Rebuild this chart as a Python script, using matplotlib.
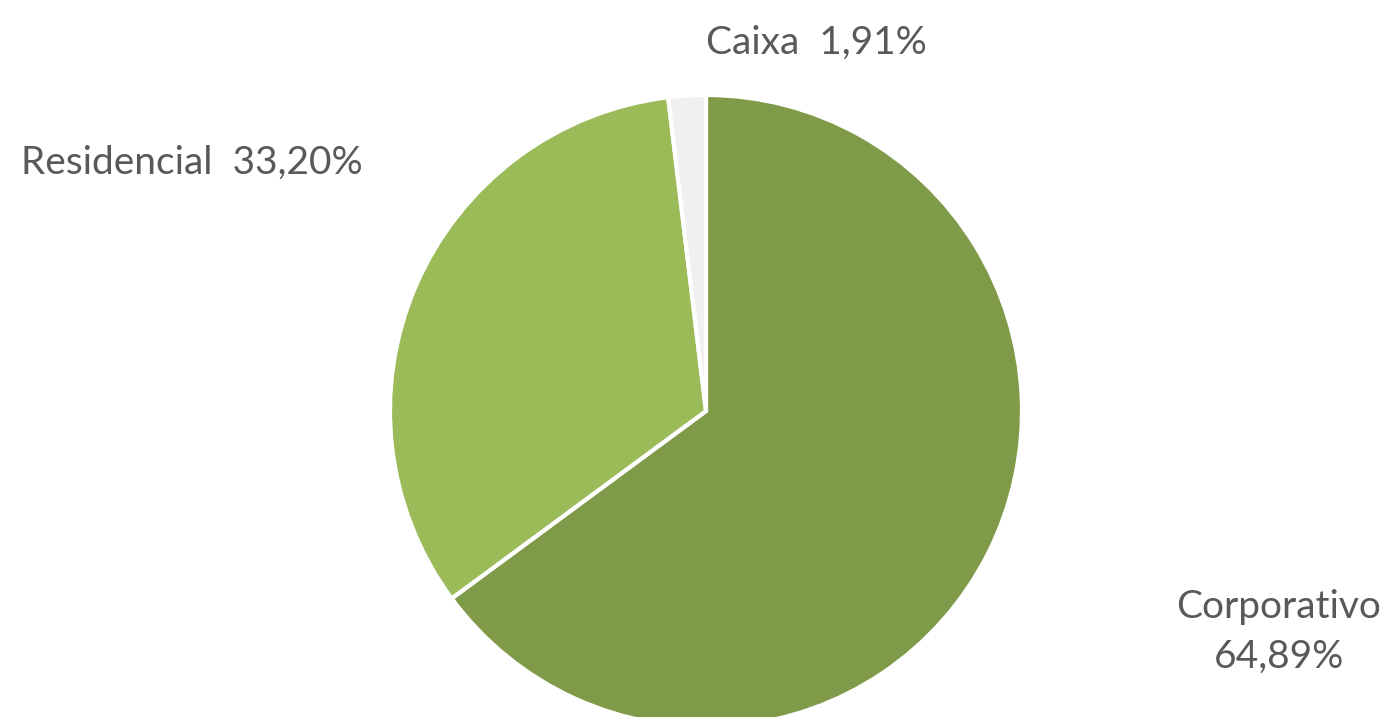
import matplotlib.pyplot as plt

# Data
categories = ['Corporativo', 'Residencial', 'Caixa']
values = [64.89, 33.20, 1.91]
colors = ['#7F9B49', '#9BBB59', '#F0F0F0']
labels = ['Corporativo\n64,89%', 'Residencial  33,20%', 'Caixa  1,91%']

W, H = 1386, 717
fig = plt.figure(figsize=(W / 100, H / 100), dpi=100)
ax = fig.add_axes([0, 0, 1, 1])
ax.set_xlim(0, W)
ax.set_ylim(0, H)
ax.set_aspect('equal')
ax.axis('off')

cx, cy, r = 706, H - 411, 316
ax.pie(values, colors=colors, startangle=90, counterclock=False,
       center=(cx, cy), radius=r, frame=True,
       wedgeprops=dict(edgecolor='white', linewidth=3))
ax.set_xlim(0, W)
ax.set_ylim(0, H)
ax.axis('off')

# Labels
font = dict(family='Lato', fontsize=28, color='#595959')
ax.text(816, H - 43, labels[2], ha='center', va='center', **font)
ax.text(192, H - 163, labels[1], ha='center', va='center', **font)
ax.text(1279, H - 632, labels[0], ha='center', va='center', linespacing=1.45, **font)

fig.savefig('out.png', dpi=100, facecolor='white')
